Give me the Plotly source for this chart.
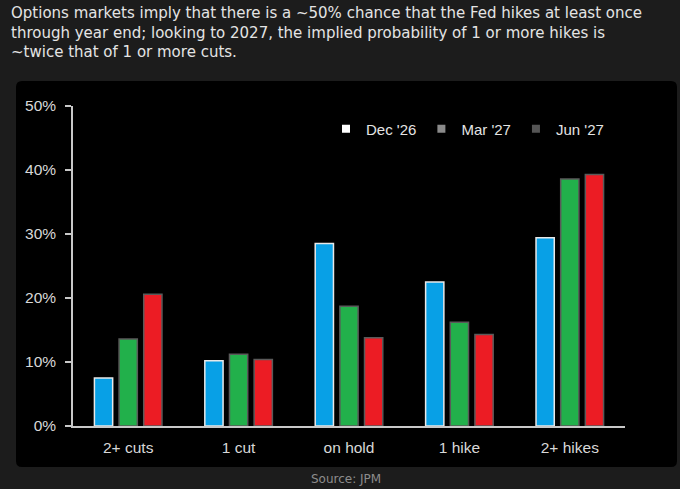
import plotly.graph_objects as go

# Implied probability (%) of each policy outcome, by options expiry
categories = ["2+ cuts", "1 cut", "on hold", "1 hike", "2+ hikes"]
series_names = ["Dec '26", "Mar '27", "Jun '27"]
dec_26 = [7.5, 10.2, 28.5, 22.5, 29.4]
mar_27 = [13.6, 11.2, 18.7, 16.2, 38.6]
jun_27 = [20.6, 10.4, 13.8, 14.3, 39.3]
y_ticks = [0, 10, 20, 30, 40, 50]

bar_colors = ["#08a0e6", "#22b04b", "#ec1c24"]
bar_outlines = ["#e8e8e8", "#5a5a5a", "#5a5a5a"]
legend_swatches = ["#ffffff", "#8a8a8a", "#555555"]

W, H = 680, 489
L, R, T, B = 73, 55, 106, 63
pw, ph = W - L - R, H - T - B


def px_x(x):
    return (x - L) / pw


def px_y(y):
    return (H - B - y) / ph


fig = go.Figure()
for name, vals, col, edge in zip(series_names, [dec_26, mar_27, jun_27], bar_colors, bar_outlines):
    fig.add_trace(go.Bar(
        x=categories, y=vals, name=name, showlegend=False,
        marker=dict(color=col, line=dict(color=edge, width=1.5)),
    ))

# legend entries use grey-scale swatches
for name, sw in zip(series_names, legend_swatches):
    fig.add_trace(go.Scatter(
        x=[None], y=[None], mode="markers", name=name,
        marker=dict(symbol="square", size=8, color=sw),
    ))

# black chart panel with rounded corners
x0, x1 = px_x(16), px_x(677)
y0, y1 = px_y(467), px_y(81)
rx, ry = 6 / pw, 6 / ph
panel = (f"M {x0+rx},{y1} L {x1-rx},{y1} Q {x1},{y1} {x1},{y1-ry} "
         f"L {x1},{y0+ry} Q {x1},{y0} {x1-rx},{y0} L {x0+rx},{y0} "
         f"Q {x0},{y0} {x0},{y0+ry} L {x0},{y1-ry} Q {x0},{y1} {x0+rx},{y1} Z")
fig.add_shape(type="path", path=panel, xref="paper", yref="paper",
              fillcolor="#000000", line=dict(width=0), layer="below")

fig.add_annotation(
    text=("Options markets imply that there is a ~50% chance that the Fed hikes at least once<br>"
          "through year end; looking to 2027, the implied probability of 1 or more hikes is<br>"
          "~twice that of 1 or more cuts."),
    xref="paper", yref="paper", x=px_x(9), y=px_y(2), xanchor="left", yanchor="top",
    align="left", showarrow=False,
    font=dict(family="DejaVu Sans", size=15, color="#e4e4e4"),
)
fig.add_annotation(
    text="Source: JPM", xref="paper", yref="paper", x=px_x(346), y=px_y(479),
    xanchor="center", yanchor="middle", showarrow=False,
    font=dict(family="DejaVu Sans", size=12, color="#8c8c8c"),
)

axis_font = dict(family="Liberation Sans, Arial", size=15.5, color="#d8d8d8")
legend_font = dict(family="Liberation Sans, Arial", size=15, color="#e4e4e4")
fig.update_layout(
    width=W, height=H,
    margin=dict(l=L, r=R, t=T, b=B),
    paper_bgcolor="#1c1c1c", plot_bgcolor="rgba(0,0,0,0)",
    barmode="group", bargap=0.33, bargroupgap=0.26,
    legend=dict(orientation="h", x=px_x(326), y=px_y(129), xanchor="left", yanchor="middle",
                font=legend_font, bgcolor="rgba(0,0,0,0)", itemwidth=30, tracegroupgap=0),
    xaxis=dict(showline=True, linecolor="#c8c8c8", linewidth=1.5, ticks="",
               tickfont=axis_font, showgrid=False, ticklabelstandoff=7,
               range=[-0.5, 4.5]),
    yaxis=dict(range=[0, 50], tickvals=y_ticks, ticktext=[f"{v}%" for v in y_ticks],
               showline=True, linecolor="#c8c8c8", linewidth=1.5, ticks="outside",
               ticklen=6, tickcolor="#c8c8c8", tickwidth=1.5, tickfont=axis_font,
               showgrid=False, zeroline=False, ticklabelstandoff=6),
)

fig.write_html("out.html")
